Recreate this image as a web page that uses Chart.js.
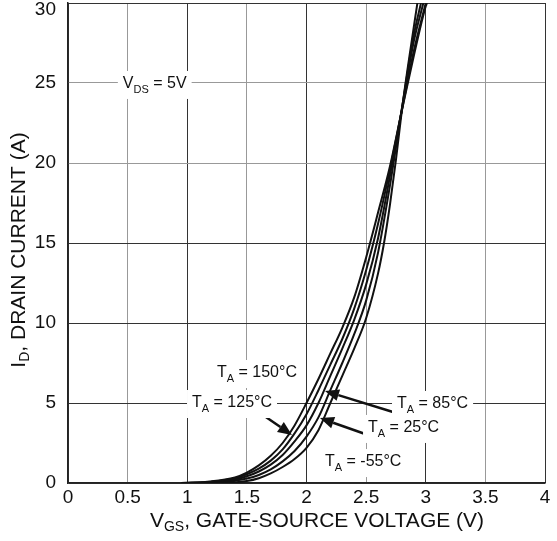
<!DOCTYPE html>
<html>
<head>
<meta charset="utf-8">
<script src="https://cdn.jsdelivr.net/npm/chart.js@4/dist/chart.umd.min.js"></script>
<style>
  body { margin: 0; background: #fff; }
  #chart { display: block; }
</style>
</head>
<body>
<canvas id="chart" width="557" height="541"></canvas>
<script>
// ---- data ----
const xTicks = [0, 0.5, 1, 1.5, 2, 2.5, 3, 3.5, 4];
const yTicks = [0, 5, 10, 15, 20, 25, 30];

// V_GS (V) / I_D (A) per ambient temperature
const vgs150 = [0.95, 1.2, 1.4, 1.5, 1.6, 1.7, 1.8, 1.9, 2.0, 2.1, 2.2, 2.3, 2.4, 2.5, 2.6, 2.7, 2.8, 2.9, 3.0, 3.01];
const id150  = [0, 0.1, 0.35, 0.65, 1.1, 1.7, 2.5, 3.6, 5.0, 6.5, 8.1, 9.7, 11.6, 14.1, 16.9, 19.8, 23.3, 26.7, 29.8, 30];

const vgs125 = [0.97, 1.2, 1.4, 1.5, 1.6, 1.7, 1.8, 1.9, 2.0, 2.1, 2.2, 2.3, 2.4, 2.5, 2.6, 2.7, 2.8, 2.9, 3.0];
const id125  = [0, 0.08, 0.3, 0.55, 0.9, 1.4, 2.1, 3.1, 4.3, 5.8, 7.4, 9.0, 10.9, 13.3, 16.2, 19.6, 23.3, 27.0, 30];

const vgs85  = [1.0, 1.2, 1.4, 1.5, 1.6, 1.7, 1.8, 1.9, 2.0, 2.1, 2.2, 2.3, 2.4, 2.5, 2.6, 2.7, 2.8, 2.9, 2.98];
const id85   = [0, 0.05, 0.22, 0.42, 0.72, 1.15, 1.75, 2.6, 3.6, 5.0, 6.7, 8.4, 10.2, 12.4, 15.3, 19.2, 23.4, 27.6, 30];

const vgs25  = [1.05, 1.3, 1.5, 1.6, 1.7, 1.8, 1.9, 2.0, 2.1, 2.2, 2.3, 2.4, 2.5, 2.6, 2.7, 2.8, 2.9, 2.96];
const id25   = [0, 0.05, 0.28, 0.5, 0.85, 1.35, 2.0, 2.9, 4.1, 5.8, 7.5, 9.3, 11.4, 14.4, 18.6, 23.4, 28.0, 30];

const vgsM55 = [1.2, 1.4, 1.5, 1.6, 1.7, 1.8, 1.9, 2.0, 2.1, 2.2, 2.3, 2.4, 2.5, 2.6, 2.65, 2.7, 2.75, 2.8, 2.85, 2.93];
const idM55  = [0, 0.05, 0.12, 0.3, 0.6, 1.0, 1.5, 2.2, 3.3, 5.0, 6.7, 8.4, 10.3, 13.1, 15.0, 17.4, 20.2, 23.3, 26.0, 30];

// annotation labels: [main, subscript, rest, x (V), y (A)]
const labels = [
  ['V', 'DS', ' = 5V',     0.46, 24.94],
  ['T', 'A',  ' = 150°C',  1.249, 6.875],
  ['T', 'A',  ' = 125°C',  1.04, 5.0],
  ['T', 'A',  ' = 85°C',   2.759, 4.94],
  ['T', 'A',  ' = 25°C',   2.516, 3.44],
  ['T', 'A',  ' = -55°C',  2.155, 1.31],
];
// arrows: [fromX, fromY, toX, toY] in data units
const arrows = [
  [1.61, 4.375, 1.878, 3.0],
  [2.725, 4.44, 2.155, 5.75],
  [2.516, 3.0, 2.113, 4.06],
];

const FONT = "'Liberation Sans', Arial, sans-serif";
const INK  = '#111';

function pts(xs, ys) {
  return xs.map((x, i) => ({ x, y: ys[i] }));
}

function curve(label, xs, ys) {
  return {
    label,
    data: pts(xs, ys),
    showLine: true,
    borderColor: INK,
    borderWidth: 2,
    pointRadius: 0,
    cubicInterpolationMode: 'monotone',
  };
}

function gridColorX(ctx) {
  const v = ctx.tick && ctx.tick.value;
  return Number.isInteger(v) ? '#333' : '#999';
}
function gridColorY(ctx) {
  const v = ctx.tick && ctx.tick.value;
  return (v >= 20 && v < 30) ? '#999' : '#333';
}

// text with subscript, white box behind it
function drawLabel(c, main, sub, rest, x, y) {
  c.save();
  c.textBaseline = 'middle';
  c.textAlign = 'left';
  c.font = '16px ' + FONT;
  const w1 = c.measureText(main).width;
  const w3 = c.measureText(rest).width;
  c.font = '11px ' + FONT;
  const w2 = c.measureText(sub).width;
  const total = w1 + w2 + w3;
  c.fillStyle = '#fff';
  c.fillRect(x - 5, y - 13, total + 10, 28);
  c.fillStyle = INK;
  c.font = '16px ' + FONT;
  c.fillText(main, x, y);
  c.font = '11px ' + FONT;
  c.fillText(sub, x + w1, y + 6);
  c.font = '16px ' + FONT;
  c.fillText(rest, x + w1 + w2, y);
  c.restore();
}

function drawArrow(c, x1, y1, x2, y2) {
  const ang = Math.atan2(y2 - y1, x2 - x1);
  const hl = 14, hw = 6;
  const bx = x2 - hl * Math.cos(ang), by = y2 - hl * Math.sin(ang);
  c.save();
  c.strokeStyle = INK;
  c.fillStyle = INK;
  c.lineWidth = 2.5;
  c.beginPath();
  c.moveTo(x1, y1);
  c.lineTo(bx, by);
  c.stroke();
  c.beginPath();
  c.moveTo(x2, y2);
  c.lineTo(bx + hw * Math.sin(ang), by - hw * Math.cos(ang));
  c.lineTo(bx - hw * Math.sin(ang), by + hw * Math.cos(ang));
  c.closePath();
  c.fill();
  c.restore();
}

const decor = {
  id: 'decor',
  afterDatasetsDraw(chart) {
    const c = chart.ctx;
    const xs = chart.scales.x, ys = chart.scales.y;
    arrows.forEach(a => drawArrow(c,
      xs.getPixelForValue(a[0]), ys.getPixelForValue(a[1]),
      xs.getPixelForValue(a[2]), ys.getPixelForValue(a[3])));
    labels.forEach(l => drawLabel(c, l[0], l[1], l[2],
      xs.getPixelForValue(l[3]), ys.getPixelForValue(l[4])));
  },
  afterDraw(chart) {
    const c = chart.ctx;
    const ys = chart.scales.y;
    const area = chart.chartArea;
    c.save();
    c.fillStyle = INK;
    // y tick labels (top one kept inside the canvas)
    c.font = '19px ' + FONT;
    c.textAlign = 'right';
    c.textBaseline = 'middle';
    ys.ticks.forEach(t => {
      const py = Math.max(ys.getPixelForValue(t.value), 10);
      c.fillText(String(t.value), area.left - 12, py);
    });
    // x axis title
    const xt = [['V', 21, 0], ['GS', 14, 6], [', GATE-SOURCE VOLTAGE (V)', 21, 0]];
    let w = 0;
    xt.forEach(p => { c.font = p[1] + 'px ' + FONT; w += c.measureText(p[0]).width; });
    let x = 317 - w / 2;
    c.textAlign = 'left';
    xt.forEach(p => {
      c.font = p[1] + 'px ' + FONT;
      c.fillText(p[0], x, 521 + p[2]);
      x += c.measureText(p[0]).width;
    });
    // y axis title (rotated)
    const yt = [['I', 21, 0], ['D', 14, 6], [', DRAIN CURRENT (A)', 21, 0]];
    w = 0;
    yt.forEach(p => { c.font = p[1] + 'px ' + FONT; w += c.measureText(p[0]).width; });
    c.translate(19, 250);
    c.rotate(-Math.PI / 2);
    x = -w / 2;
    yt.forEach(p => {
      c.font = p[1] + 'px ' + FONT;
      c.fillText(p[0], x, p[2]);
      x += c.measureText(p[0]).width;
    });
    c.restore();
  }
};

new Chart(document.getElementById('chart'), {
  type: 'scatter',
  data: {
    datasets: [
      curve('150°C', vgs150, id150),
      curve('125°C', vgs125, id125),
      curve('85°C', vgs85, id85),
      curve('25°C', vgs25, id25),
      curve('-55°C', vgsM55, idM55),
    ]
  },
  options: {
    responsive: false,
    animation: false,
    devicePixelRatio: 1,
    layout: { padding: { left: 0, right: 12, top: 3, bottom: 0 } },
    plugins: { legend: { display: false }, tooltip: { enabled: false } },
    scales: {
      x: {
        type: 'linear',
        min: 0, max: 4,
        afterBuildTicks: s => { s.ticks = xTicks.map(v => ({ value: v })); },
        ticks: {
          color: INK, font: { size: 19, family: FONT }, padding: 3,
          maxRotation: 0, autoSkip: false,
          callback: v => String(v),
        },
        grid: { color: gridColorX, lineWidth: 1, drawTicks: false },
        border: { display: true, color: '#222', width: 1.5 },
        afterFit: s => { s.height = 58; s.paddingLeft = 0; s.paddingRight = 0; },
      },
      y: {
        type: 'linear',
        min: 0, max: 30,
        afterBuildTicks: s => { s.ticks = yTicks.map(v => ({ value: v })); },
        ticks: { display: false },
        grid: { color: gridColorY, lineWidth: 1, drawTicks: false },
        border: { display: true, color: '#222', width: 1.5 },
        afterFit: s => { s.width = 68; s.paddingTop = 0; s.paddingBottom = 0; },
      }
    }
  },
  plugins: [decor]
});
</script>
</body>
</html>
